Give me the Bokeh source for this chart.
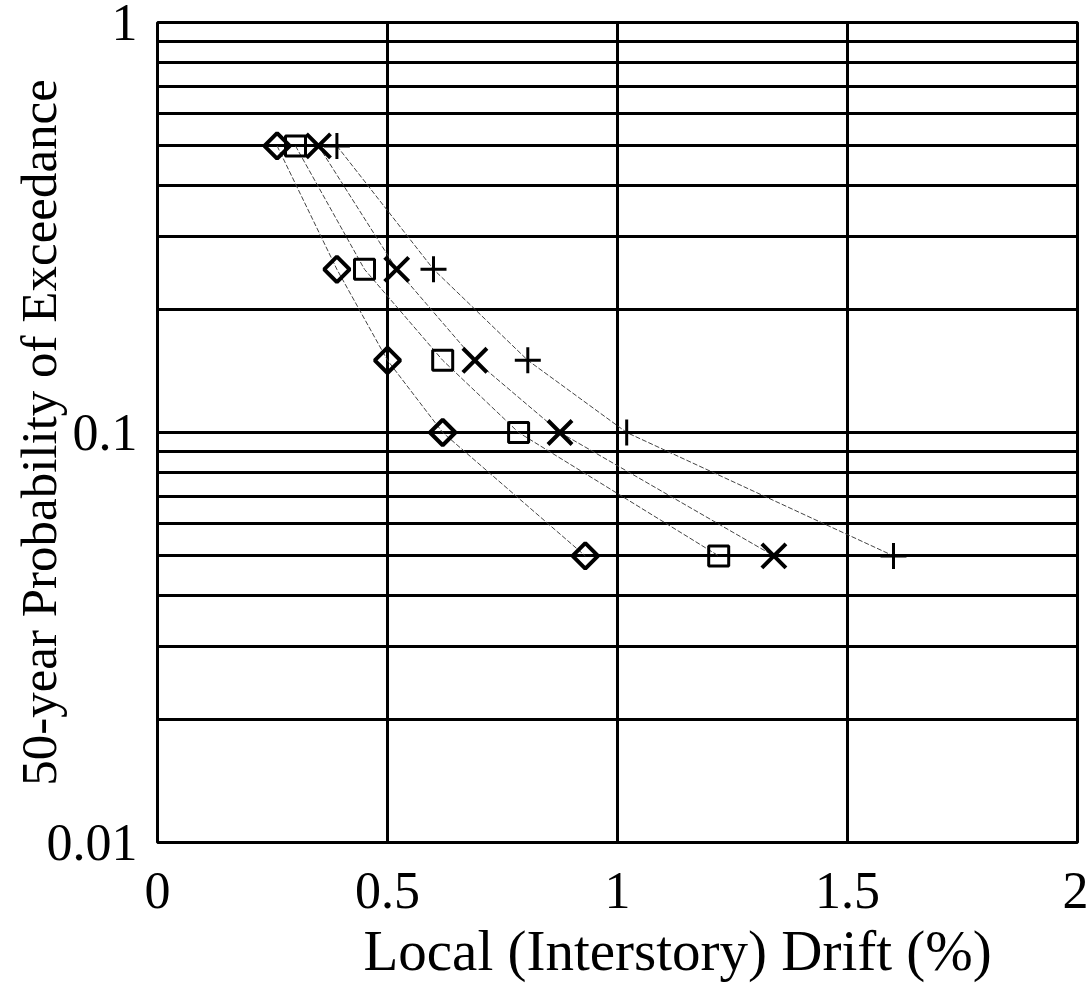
import numpy as np
from bokeh.plotting import figure
from bokeh.models import FixedTicker, CustomJSTickFormatter, Range1d, Title
from bokeh.embed import file_html
from bokeh.resources import INLINE

# ---- data ----
prob = [0.5, 0.25, 0.15, 0.1, 0.05]
drift_diamond = [0.26, 0.39, 0.50, 0.62, 0.93]
drift_square = [0.30, 0.45, 0.62, 0.785, 1.22]
drift_x = [0.35, 0.52, 0.69, 0.875, 1.34]
drift_plus = [0.39, 0.60, 0.805, 1.02, 1.60]

x_ticks = [0, 0.5, 1, 1.5, 2]
y_ticks = [0.01, 0.1, 1]
y_minor = [0.02, 0.03, 0.04, 0.05, 0.06, 0.07, 0.08, 0.09,
           0.2, 0.3, 0.4, 0.5, 0.6, 0.7, 0.8, 0.9]

FONT = "Liberation Serif"

p = figure(y_axis_type="log", output_backend="svg", toolbar_location=None,
           frame_width=920, frame_height=820,
           x_range=Range1d(0, 2), y_range=Range1d(0.01, 1),
           min_border_left=157, min_border_top=22, min_border_right=11,
           min_border_bottom=20)

p.background_fill_color = "white"
p.border_fill_color = "white"
p.outline_line_color = "black"
p.outline_line_width = 3

# grids
p.xaxis.ticker = FixedTicker(ticks=x_ticks)
p.yaxis.ticker = FixedTicker(ticks=y_ticks, minor_ticks=y_minor)
p.xgrid.grid_line_color = "black"
p.xgrid.grid_line_width = 3
p.ygrid.grid_line_color = "black"
p.ygrid.grid_line_width = 3
p.ygrid.minor_grid_line_color = "black"
p.ygrid.minor_grid_line_width = 3

fmt = "return String(tick);"
p.xaxis.formatter = CustomJSTickFormatter(code=fmt)
p.yaxis.formatter = CustomJSTickFormatter(code=fmt)

for ax in (p.xaxis, p.yaxis):
    ax.axis_line_color = None
    ax.major_tick_line_color = None
    ax.minor_tick_line_color = None
    ax.major_tick_out = 0
    ax.minor_tick_out = 0
    ax.major_label_text_font = FONT
    ax.major_label_text_font_size = "52px"
    ax.major_label_text_color = "black"
    ax.major_label_text_line_height = 0.8

p.xaxis.major_label_standoff = 30
p.yaxis.major_label_standoff = 20

p.yaxis.axis_label = "50-year Probability of Exceedance"
p.yaxis.axis_label_text_font = FONT
p.yaxis.axis_label_text_font_size = "51px"
p.yaxis.axis_label_text_font_style = "normal"
p.yaxis.axis_label_text_color = "black"
p.yaxis.axis_label_standoff = -23

p.add_layout(Title(text="Local (Interstory) Drift (%)", align="left", offset=206,
                   text_font=FONT, text_font_size="57px", text_font_style="normal",
                   text_color="black", standoff=12), "below")

# connecting curves
line_kw = dict(line_color="#444444", line_width=1, line_dash="5 2")
for xs in (drift_diamond, drift_square, drift_x, drift_plus):
    p.line(xs, prob, **line_kw)

# markers
p.scatter(drift_diamond, prob, marker="square", angle=np.pi / 4, size=18,
          fill_color="white", fill_alpha=0, line_color="black", line_width=4)
p.scatter(drift_square, prob, marker="square", size=20,
          fill_color="white", fill_alpha=0, line_color="black", line_width=3)
p.scatter(drift_x, prob, marker="x", size=34,
          line_color="black", line_width=4)
p.scatter(drift_plus, prob, marker="cross", size=26,
          line_color="black", line_width=3)

open("out.html", "w").write(file_html(p, INLINE))
